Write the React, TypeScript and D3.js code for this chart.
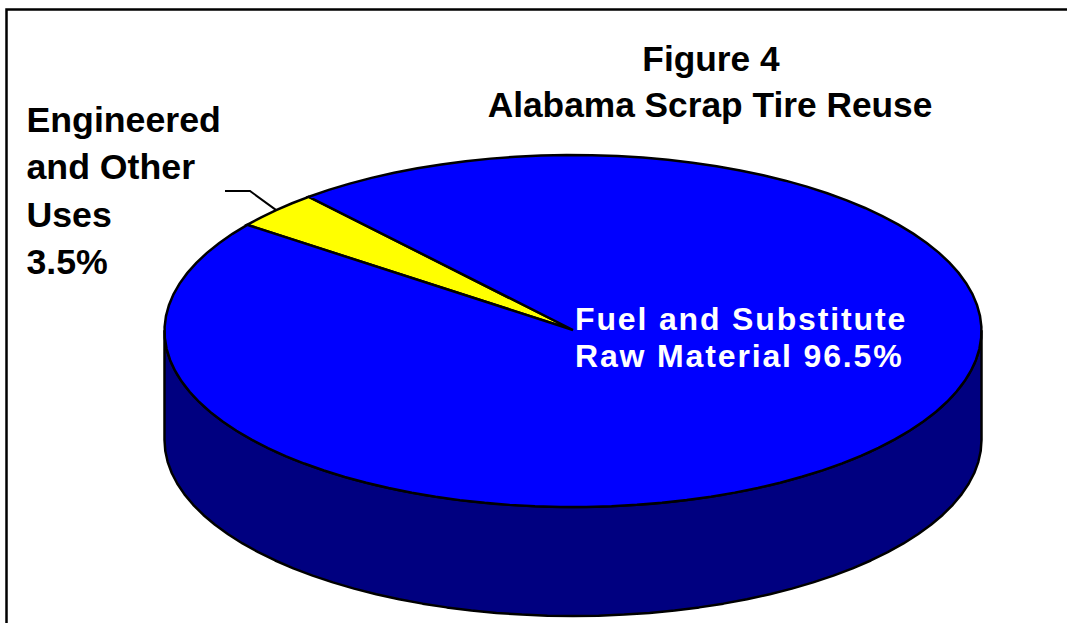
import React from "react";
import * as d3 from "d3";

const sliceNames = ["Engineered and Other Uses", "Fuel and Substitute Raw Material"];
const sliceValues = [3.5, 96.5];
const sliceColors = ["#ffff00", "#0000ff"];
const wallColor = "#000080";
const titleLines = ["Figure 4", "Alabama Scrap Tire Reuse"];
const smallLabelLines = ["Engineered", "and Other", "Uses", "3.5%"];
const bigLabelLines = ["Fuel and Substitute", "Raw Material 96.5%"];

const W = 1067;
const H = 623;
const cx = 573;
const cy = 331;
const rx = 408.5;
const ry = 176;
const depth = 109;
const startDeg = -52.9;
const stepDeg = 3.6;
const font = "'Liberation Sans', Arial, sans-serif";

const sx = d3.scaleLinear().domain([-1, 1]).range([cx - rx, cx + rx]);
const sy = d3.scaleLinear().domain([-1, 1]).range([cy - ry, cy + ry]);

const rad = (d: number) => (d * Math.PI) / 180;
const rimPoint = (a: number, dy = 0): [number, number] => [sx(Math.sin(a)), sy(-Math.cos(a)) + dy];
const rim = (a0: number, a1: number, dy = 0): [number, number][] => {
  const n = Math.max(1, Math.ceil(Math.abs(a1 - a0) / rad(stepDeg)));
  return d3.range(n + 1).map((i) => rimPoint(a0 + ((a1 - a0) * i) / n, dy));
};
const line = d3.line<[number, number]>();

const slices = d3
  .pie<number>()
  .sort(null)
  .startAngle(rad(startDeg))
  .endAngle(rad(startDeg) + 2 * Math.PI)(sliceValues);

const wall = [
  ...rim(Math.PI / 2, (3 * Math.PI) / 2),
  ...rim((3 * Math.PI) / 2, Math.PI / 2, depth),
];

const yellowMid = (slices[0].startAngle + slices[0].endAngle) / 2;
const [lx, ly] = rimPoint(yellowMid);

export default function App() {
  return (
    <svg
      width={W}
      height={H}
      viewBox={`0 0 ${W} ${H}`}
      style={{ position: "absolute", left: 0, top: 0, background: "#fff", display: "block" }}
    >
      <path d={`M6.5 ${H}V9.5H${W}`} fill="none" stroke="#000" strokeWidth={2.5} />
      <path d={line(wall) + "Z"} fill={wallColor} stroke="#000" strokeWidth={2.5} strokeLinejoin="round" />
      {slices.map((s, i) => (
        <path
          key={sliceNames[i]}
          d={line([[cx, cy - 1], ...rim(s.startAngle, s.endAngle)]) + "Z"}
          fill={sliceColors[i]}
          stroke="#000"
          strokeWidth={2.5}
          strokeLinejoin="miter"
          strokeMiterlimit={3}
        />
      ))}
      <path d={line([[225, 191], [250, 191], [lx, ly]]) ?? ""} fill="none" stroke="#000" strokeWidth={2} />
      <g fontFamily={font} fontWeight="bold" fill="#000">
        {titleLines.map((t, i) => (
          <text key={t} x={711 - i} y={71 + i * 46} fontSize={35.3} textAnchor="middle">{t}</text>
        ))}
        {smallLabelLines.map((t, i) => (
          <text key={t} x={26.5} y={132 + i * 47.4} fontSize={35.7}>{t}</text>
        ))}
      </g>
      <g fontFamily={font} fontWeight="bold" fontSize={32} fill="#fff" letterSpacing={1.85}>
        {bigLabelLines.map((t, i) => (
          <text key={t} x={575} y={330 + i * 37}>{t}</text>
        ))}
      </g>
    </svg>
  );
}
